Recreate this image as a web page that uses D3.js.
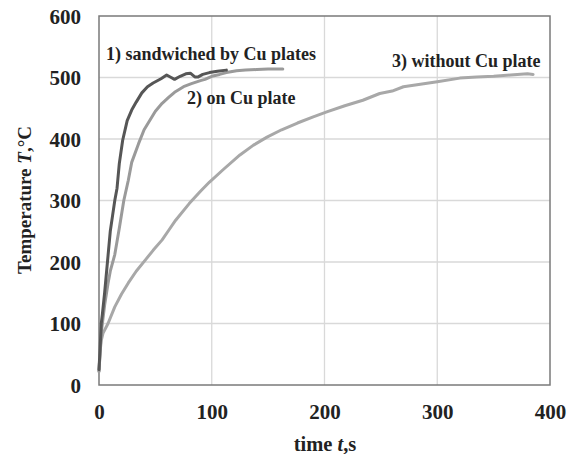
<!DOCTYPE html>
<html><head><meta charset="utf-8">
<script src="https://cdn.jsdelivr.net/npm/d3@7"></script>
<style>body{margin:0;background:#fff}svg text{font-family:"Liberation Serif","Times New Roman",serif;font-weight:bold;fill:#222}</style>
</head><body><svg id="c" width="575" height="454"></svg>
<script>
const xTicks = [0, 100, 200, 300, 400];
const yTicks = [0, 100, 200, 300, 400, 500, 600];
const seriesNames = ["1) sandwiched by Cu plates", "2) on Cu plate", "3) without Cu plate"];
// [time s, temperature °C]
const sandwiched = [[0,25],[1,60],[2,100],[3,115],[5,150],[8,210],[10,250],[12,275],[14,300],[16,320],[18,360],[21,398],[25,430],[29,447],[33,460],[38,475],[43,485],[48,491],[55,498],[60,504],[64,500],[67,497],[72,502],[77,506],[81,507],[85,501],[88,501],[92,505],[98,508],[105,510],[113,512]];
const onPlate = [[0,22],[1,55],[2,85],[3,100],[5,130],[8,165],[10,185],[14,212],[18,255],[22,300],[26,333],[29,362],[35,392],[40,415],[45,430],[50,445],[56,458],[62,468],[67,476],[75,485],[82,490],[90,495],[94,497],[100,502],[107,505],[113,508],[122,511],[130,512],[140,513],[150,514],[163,514]];
const withoutPlate = [[0,22],[1,55],[2,72],[3.5,84],[8,100],[14,127],[20,148],[26,166],[33,185],[41,203],[48,219],[56,236],[62,252],[68,268],[80,295],[90,315],[98,330],[110,350],[125,374],[137,390],[149,403],[162,415],[176,426],[190,436],[202,444],[218,454],[234,463],[249,474],[260,478],[270,485],[285,489],[300,493],[320,499],[335,501],[350,502],[365,504],[380,506],[385,505]];
const colors = ["#565656", "#9a9a9a", "#a8a8a8"];

const svg = d3.select("#c");
const x = d3.scaleLinear().domain([0,400]).range([99,550]);
const y = d3.scaleLinear().domain([0,600]).range([385,16]);

// grid
svg.append("g").selectAll("line").data(yTicks.slice(1,-1)).join("line")
  .attr("x1",x(0)).attr("x2",x(400)).attr("y1",d=>y(d)).attr("y2",d=>y(d))
  .attr("stroke","#d9d9d9").attr("stroke-width",1.3);
svg.append("g").selectAll("line").data(xTicks.slice(1,-1)).join("line")
  .attr("y1",y(0)).attr("y2",y(600)).attr("x1",d=>x(d)).attr("x2",d=>x(d))
  .attr("stroke","#d9d9d9").attr("stroke-width",1.3);

// axes
const gx = svg.append("g").attr("transform",`translate(0,${y(0)})`)
  .call(d3.axisBottom(x).tickValues(xTicks).tickSize(0).tickPadding(19));
gx.select(".domain").remove();
gx.selectAll("text").attr("font-size",21).attr("font-family",null).attr("fill",null);
const gy = svg.append("g").attr("transform",`translate(${x(0)},0)`)
  .call(d3.axisLeft(y).tickValues(yTicks).tickSize(0).tickPadding(18));
gy.select(".domain").remove();
gy.selectAll("text").attr("font-size",21).attr("font-family",null).attr("fill",null).attr("dy","0.34em");

// border
svg.append("rect").attr("x",x(0)).attr("y",y(600)).attr("width",x(400)-x(0)).attr("height",y(0)-y(600))
  .attr("fill","none").attr("stroke","#7a7a7a").attr("stroke-width",1.5);

// lines
const line = d3.line().x(d=>x(d[0])).y(d=>y(d[1])).curve(d3.curveLinear);
[withoutPlate, onPlate, sandwiched].forEach((s,i)=>{
  const ci = [2,1,0][i];
  svg.append("path").datum(s).attr("d",line).attr("fill","none")
    .attr("stroke",colors[ci]).attr("stroke-width",3).attr("stroke-linejoin","round").attr("stroke-linecap","round");
});

// labels
svg.append("text").attr("x",106).attr("y",60).attr("font-size",18).text(seriesNames[0]);
svg.append("text").attr("x",187).attr("y",104).attr("font-size",18).text(seriesNames[1]);
svg.append("text").attr("x",392).attr("y",67).attr("font-size",18).text(seriesNames[2]);

// axis titles
const xt = svg.append("text").attr("x",325).attr("y",451).attr("text-anchor","middle").attr("font-size",20.5);
xt.append("tspan").text("time ");
xt.append("tspan").attr("font-style","italic").text("t");
xt.append("tspan").text(",s");
const yt = svg.append("text").attr("transform","translate(31,200) rotate(-90)").attr("text-anchor","middle").attr("font-size",19);
yt.append("tspan").text("Temperature ");
yt.append("tspan").attr("font-style","italic").text("T");
yt.append("tspan").text(",°C");
</script></body></html>
